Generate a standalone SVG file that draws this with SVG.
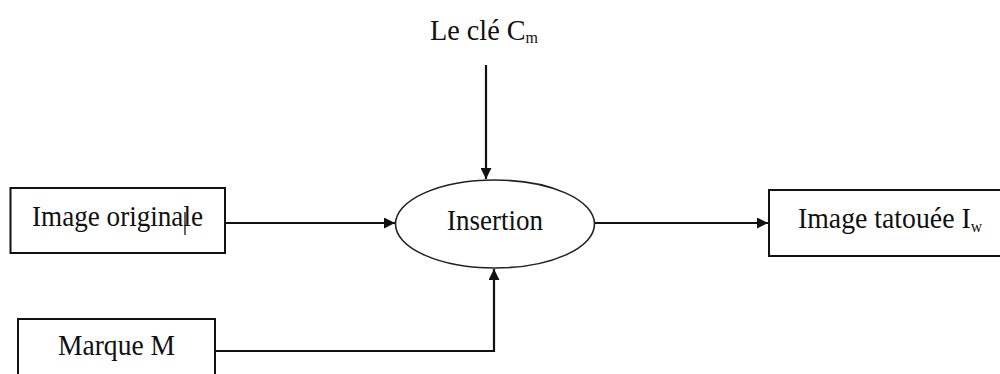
<svg xmlns="http://www.w3.org/2000/svg" width="1000" height="374" viewBox="0 0 1000 374">
<style>
.box{fill:#fff;stroke:#111;stroke-width:2}
.ell{fill:#fff;stroke:#222;stroke-width:1.6}
.t{font-family:"Liberation Serif","Times New Roman",serif;font-size:30px;fill:#111}
.sub{font-size:17px}
.c{fill:none;stroke:#111;stroke-width:2.2}
</style>
<defs>
<marker id="ah" viewBox="0 0 10 10" refX="10" refY="5" markerWidth="13" markerHeight="11" markerUnits="userSpaceOnUse" orient="auto">
<path d="M0,0 L10,5 L0,10 z" fill="#111"/>
</marker>
</defs>
<rect width="1000" height="374" fill="#fff"/>
<g id="connectors">
<line class="c" x1="225" y1="223" x2="395" y2="223" marker-end="url(#ah)"/>
<line class="c" x1="486" y1="65" x2="486" y2="179" marker-end="url(#ah)"/>
<polyline class="c" points="215,351 494,351 494,269" marker-end="url(#ah)"/>
<line class="c" x1="595" y1="223" x2="768" y2="223" marker-end="url(#ah)"/>
</g>
<g id="node-image-originale">
<rect class="box" x="10.5" y="188" width="214.5" height="65"/>
<text class="t" x="32" y="226" textLength="171" lengthAdjust="spacingAndGlyphs">Image originale</text>
<line x1="185" y1="212" x2="185" y2="235" stroke="#111" stroke-width="1.3"/>
</g>
<g id="node-marque">
<rect class="box" x="18" y="319" width="197" height="70"/>
<text class="t" x="58" y="355" textLength="117" lengthAdjust="spacingAndGlyphs">Marque M</text>
</g>
<g id="node-cle">
<text class="t" x="430" y="40" textLength="108" lengthAdjust="spacingAndGlyphs">Le clé C<tspan class="sub" dy="3">m</tspan></text>
</g>
<g id="node-insertion">
<ellipse class="ell" cx="495" cy="224" rx="99.5" ry="44"/>
<text class="t" x="447" y="230" textLength="96" lengthAdjust="spacingAndGlyphs">Insertion</text>
</g>
<g id="node-image-tatouee">
<rect class="box" x="769" y="190" width="260" height="66"/>
<text class="t" x="798" y="228" textLength="184" lengthAdjust="spacingAndGlyphs">Image tatouée I<tspan class="sub" dy="4">w</tspan></text>
</g>
</svg>
